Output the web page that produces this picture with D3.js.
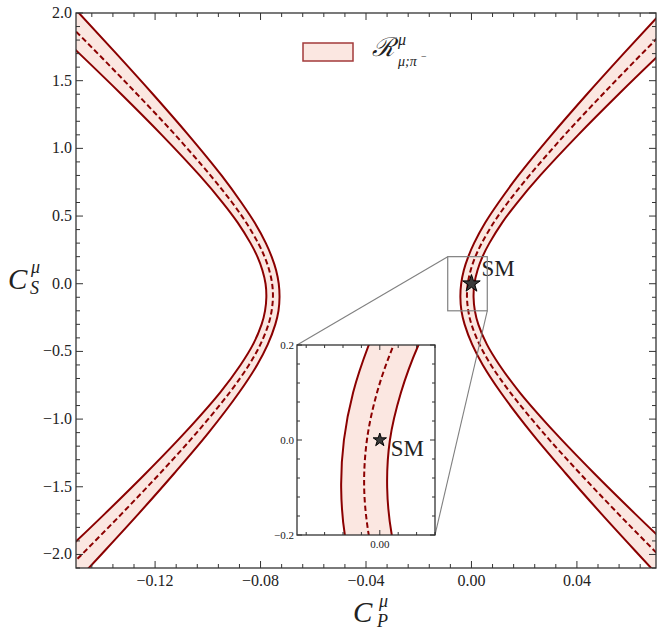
<!DOCTYPE html>
<html><head><meta charset="utf-8">
<script src="https://cdn.jsdelivr.net/npm/d3@7"></script>
<style>body{margin:0;background:#fff}svg{display:block}text{font-family:"Liberation Serif","DejaVu Serif",serif;fill:#222}</style>
</head><body><svg id="c" width="664" height="639"></svg>
<script>
// ---- data ----
const csGrid = [-2.3,-2.0,-1.7,-1.4,-1.1,-0.8,-0.6,-0.45,-0.3,-0.2,-0.1,0.0,0.1,0.2,0.3,0.45,0.6,0.8,1.1,1.4,1.7,2.0,2.3];
const leftInner  = [-0.1547,-0.1404,-0.1263,-0.1127,-0.0997,-0.0880,-0.0813,-0.0773,-0.0744,-0.0732,-0.0728,-0.0731,-0.0741,-0.0758,-0.0780,-0.0822,-0.0873,-0.0948,-0.1074,-0.1208,-0.1347,-0.1489,-0.1633];
const leftCenter = [-0.1631,-0.1478,-0.1327,-0.1181,-0.1042,-0.0916,-0.0844,-0.0801,-0.0770,-0.0758,-0.0753,-0.0756,-0.0767,-0.0785,-0.0809,-0.0854,-0.0908,-0.0990,-0.1124,-0.1268,-0.1417,-0.1570,-0.1724];
const leftOuter  = [-0.1716,-0.1552,-0.1391,-0.1235,-0.1087,-0.0952,-0.0876,-0.0829,-0.0796,-0.0783,-0.0778,-0.0781,-0.0793,-0.0812,-0.0838,-0.0886,-0.0944,-0.1031,-0.1175,-0.1328,-0.1487,-0.1650,-0.1815];
const rightInner = [0.0777,0.0634,0.0493,0.0357,0.0227,0.0110,0.0043,0.0003,-0.0026,-0.0038,-0.0042,-0.0039,-0.0029,-0.0012,0.0010,0.0052,0.0103,0.0178,0.0304,0.0438,0.0577,0.0719,0.0863];
const rightCenter= [0.0861,0.0708,0.0557,0.0411,0.0272,0.0146,0.0074,0.0031,0.0000,-0.0012,-0.0017,-0.0014,-0.0003,0.0015,0.0039,0.0084,0.0138,0.0220,0.0354,0.0498,0.0647,0.0800,0.0954];
const rightOuter = [0.0946,0.0782,0.0621,0.0465,0.0317,0.0182,0.0106,0.0059,0.0026,0.0013,0.0008,0.0011,0.0023,0.0042,0.0068,0.0116,0.0174,0.0261,0.0405,0.0558,0.0717,0.0880,0.1045];
const smPoint = {cp:0.0, cs:0.0, label:"SM"};
const xTickLabels = [-0.12,-0.08,-0.04,0.00,0.04];
const yTickLabels = [-2.0,-1.5,-1.0,-0.5,0.0,0.5,1.0,1.5,2.0];
const insetXTickLabels = [0.00];
const insetYTickLabels = [-0.2,0.0,0.2];
const xDomain = [-0.15, 0.07], yDomain = [-2.1, 2.0];
const insetXDomain = [-0.009, 0.006], insetYDomain = [-0.2, 0.2];

// ---- styles ----
const RED = "#8b0000", FILL = "#fbe7e1", AX = "#333";
const fmtMinus = s => s.replace("-", "\u2212");

const svg = d3.select("#c");
const M = {l:76, r:656, t:13, b:568};
const x = d3.scaleLinear().domain(xDomain).range([M.l, M.r]);
const y = d3.scaleLinear().domain(yDomain).range([M.b, M.t]);

const branches = [
  {inner:leftInner, center:leftCenter, outer:leftOuter},
  {inner:rightInner, center:rightCenter, outer:rightOuter}
].map(b => csGrid.map((cs,i)=>({cs, inner:b.inner[i], center:b.center[i], outer:b.outer[i]})));

svg.append("defs").append("clipPath").attr("id","clipMain")
  .append("rect").attr("x",M.l).attr("y",M.t).attr("width",M.r-M.l).attr("height",M.b-M.t);

function drawBands(g, xs, ys, lw, dash){
  const curve = d3.curveCatmullRom.alpha(0.5);
  branches.forEach(data=>{
    g.append("path").datum(data).attr("fill",FILL)
      .attr("d", d3.area().curve(curve).y(d=>ys(d.cs)).x0(d=>xs(d.inner)).x1(d=>xs(d.outer)));
    ["inner","outer"].forEach(k=>{
      g.append("path").datum(data).attr("fill","none").attr("stroke",RED).attr("stroke-width",lw)
        .attr("d", d3.line().curve(curve).x(d=>xs(d[k])).y(d=>ys(d.cs)));
    });
    g.append("path").datum(data).attr("fill","none").attr("stroke",RED).attr("stroke-width",lw)
      .attr("stroke-dasharray",dash)
      .attr("d", d3.line().curve(curve).x(d=>xs(d.center)).y(d=>ys(d.cs)));
  });
}

const gMain = svg.append("g").attr("clip-path","url(#clipMain)");
drawBands(gMain, x, y, 2, "5.5,3");

// SM star main
svg.append("path").attr("d", d3.symbol(d3.symbolStar, 95)())
  .attr("transform",`translate(${x(smPoint.cp)},${y(smPoint.cs)})`)
  .attr("fill","#3a3a3a").attr("stroke","#000").attr("stroke-width",1);
svg.append("text").attr("x", x(smPoint.cp)+10).attr("y", y(smPoint.cs)-8)
  .attr("font-size",23).text(smPoint.label);

// frame & ticks
function frameTicks(g, xs, ys, xMinor, xMajor, yMinor, yMajor, Lmaj, Lmin){
  const [x0,x1] = xs.range(), [y1,y0] = ys.range();
  const isMaj = (v, arr) => arr.some(a=>Math.abs(a-v)<1e-9);
  xMinor.forEach(v=>{
    const L = isMaj(v,xMajor)?Lmaj:Lmin, px = xs(v);
    g.append("line").attr("x1",px).attr("x2",px).attr("y1",y1).attr("y2",y1-L).attr("stroke",AX).attr("stroke-width",1);
    g.append("line").attr("x1",px).attr("x2",px).attr("y1",y0).attr("y2",y0+L).attr("stroke",AX).attr("stroke-width",1);
  });
  yMinor.forEach(v=>{
    const L = isMaj(v,yMajor)?Lmaj:Lmin, py = ys(v);
    g.append("line").attr("x1",x0).attr("x2",x0+L).attr("y1",py).attr("y2",py).attr("stroke",AX).attr("stroke-width",1);
    g.append("line").attr("x1",x1).attr("x2",x1-L).attr("y1",py).attr("y2",py).attr("stroke",AX).attr("stroke-width",1);
  });
  g.append("rect").attr("x",x0).attr("y",y0).attr("width",x1-x0).attr("height",y1-y0)
    .attr("fill","none").attr("stroke",AX).attr("stroke-width",1.3);
}
const xMinorMain = d3.range(-0.144, 0.0701, 0.008).map(v=>+v.toFixed(3));
const yMinorMain = d3.range(-2.1, 2.0001, 0.1).map(v=>+v.toFixed(2));
const gAx = svg.append("g");
frameTicks(gAx, x, y, xMinorMain, xTickLabels, yMinorMain, yTickLabels, 7, 4);

xTickLabels.forEach(v=>{
  gAx.append("text").attr("x",x(v)).attr("y",M.b+18).attr("text-anchor","middle")
    .attr("font-size",16).text(fmtMinus(v.toFixed(2)));
});
yTickLabels.forEach(v=>{
  gAx.append("text").attr("x",M.l-4).attr("y",y(v)+5).attr("text-anchor","end")
    .attr("font-size",16).text(fmtMinus(v.toFixed(1)));
});

// axis titles
const xt = svg.append("g");
xt.append("text").attr("x",353).attr("y",622).attr("font-size",29).attr("font-style","italic").text("C");
xt.append("text").attr("x",379).attr("y",607).attr("font-size",18).attr("font-style","italic").text("\u03bc");
xt.append("text").attr("x",377).attr("y",627).attr("font-size",18).attr("font-style","italic").text("P");
const yt = svg.append("g");
yt.append("text").attr("x",8).attr("y",289).attr("font-size",29).attr("font-style","italic").text("C");
yt.append("text").attr("x",31).attr("y",273).attr("font-size",18).attr("font-style","italic").text("\u03bc");
yt.append("text").attr("x",30).attr("y",294).attr("font-size",18).attr("font-style","italic").text("S");

// legend
const lg = svg.append("g");
lg.append("rect").attr("x",303).attr("y",43).attr("width",50).attr("height",18)
  .attr("fill",FILL).attr("stroke","#a33a3a").attr("stroke-width",1.5);
lg.append("text").attr("x",372).attr("y",56).attr("font-size",26).attr("font-style","italic").text("\u211b");
lg.append("text").attr("x",398).attr("y",45).attr("font-size",16).attr("font-style","italic").text("\u03bc");
lg.append("text").attr("x",398).attr("y",66).attr("font-size",14).attr("font-style","italic").text("\u03bc;\u03c0");
lg.append("text").attr("x",421).attr("y",60).attr("font-size",10).text("\u2212");

// ---- inset ----
const I = {l:297, r:435, t:345, b:535};
const xi = d3.scaleLinear().domain(insetXDomain).range([I.l, I.r]);
const yi = d3.scaleLinear().domain(insetYDomain).range([I.b, I.t]);

const rx0 = x(insetXDomain[0]), rx1 = x(insetXDomain[1]), ry0 = y(insetYDomain[1]), ry1 = y(insetYDomain[0]);
svg.append("rect").attr("x",rx0).attr("y",ry0).attr("width",rx1-rx0).attr("height",ry1-ry0)
  .attr("fill","none").attr("stroke","#808080").attr("stroke-width",1.2);
svg.append("line").attr("x1",rx0).attr("y1",ry0).attr("x2",I.l).attr("y2",I.t).attr("stroke","#808080").attr("stroke-width",1.1);
svg.append("line").attr("x1",rx1).attr("y1",ry1).attr("x2",I.r).attr("y2",I.b).attr("stroke","#808080").attr("stroke-width",1.1);

svg.select("defs").append("clipPath").attr("id","clipInset")
  .append("rect").attr("x",I.l).attr("y",I.t).attr("width",I.r-I.l).attr("height",I.b-I.t);
svg.append("rect").attr("x",I.l).attr("y",I.t).attr("width",I.r-I.l).attr("height",I.b-I.t).attr("fill","#fff");
const gIn = svg.append("g").attr("clip-path","url(#clipInset)");
drawBands(gIn, xi, yi, 2, "5.5,3");
svg.append("path").attr("d", d3.symbol(d3.symbolStar, 55)())
  .attr("transform",`translate(${xi(smPoint.cp)},${yi(smPoint.cs)})`)
  .attr("fill","#3a3a3a").attr("stroke","#000").attr("stroke-width",1);
svg.append("text").attr("x", xi(smPoint.cp)+11).attr("y", yi(smPoint.cs)+16)
  .attr("font-size",23).text(smPoint.label);

const gIA = svg.append("g");
const xMinorIn = d3.range(-0.008, 0.00601, 0.002).map(v=>+v.toFixed(3));
const yMinorIn = d3.range(-0.2, 0.2001, 0.04).map(v=>+v.toFixed(2));
frameTicks(gIA, xi, yi, xMinorIn, insetXTickLabels, yMinorIn, insetYTickLabels, 5, 3);
insetXTickLabels.forEach(v=>{
  gIA.append("text").attr("x",xi(v)).attr("y",I.b+13).attr("text-anchor","middle").attr("font-size",11).text(v.toFixed(2));
});
insetYTickLabels.forEach(v=>{
  gIA.append("text").attr("x",I.l-3).attr("y",yi(v)+4).attr("text-anchor","end").attr("font-size",11).text(fmtMinus(v.toFixed(1)));
});
</script></body></html>
